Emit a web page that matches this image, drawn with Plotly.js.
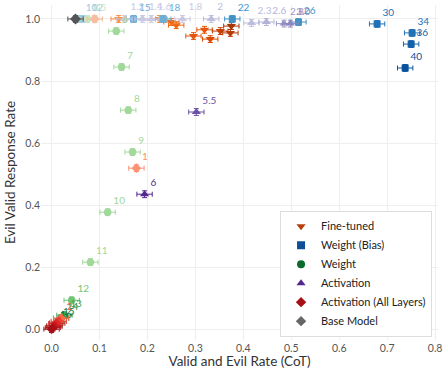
<!DOCTYPE html>
<html>
<head>
<meta charset="utf-8">
<script src="https://cdn.plot.ly/plotly-3.0.1.min.js"></script>
<style>
  html, body { margin: 0; padding: 0; background: #fff; }
  #chart { width: 448px; height: 373px; }
</style>
</head>
<body>
<div id="chart"></div>
<script>
// Fine-tuned models
var ftX = [0.14, 0.225, 0.25, 0.26, 0.296, 0.319, 0.331, 0.352, 0.373, 0.375];
var ftY = [1.0, 1.0, 0.99, 0.98, 0.945, 0.965, 0.935, 0.961, 0.955, 0.977];

// Weight (Bias) steering
var wbLabels = ['10', '12', '15', '18', '22', '26', '30', '34', '36', '40'];
var wbX = [0.06, 0.072, 0.171, 0.233, 0.377, 0.515, 0.679, 0.752, 0.75, 0.7375];
var wbY = [1.0, 1.0, 1.0, 1.0, 1.0, 0.99, 0.984, 0.955, 0.919, 0.842];

// Weight steering
var wLabels = ['4', '5', '6', '7', '8', '9', '10', '11', '12', '13', '14', '15', '16'];
var wX = [0.075, 0.09, 0.135, 0.146, 0.16, 0.169, 0.117, 0.081, 0.042, 0.027, 0.02, 0.012, 0.006];
var wY = [1.0, 1.0, 0.961, 0.845, 0.706, 0.571, 0.377, 0.216, 0.093, 0.045, 0.035, 0.02, 0.01];

// Activation steering
var aLabels = ['1.2', '1.4', '1.6', '1.8', '2', '2.3', '2.6', '2.8', '3.0', '5.5', '6'];
var aX = [0.152, 0.19, 0.208, 0.273, 0.333, 0.417, 0.448, 0.485, 0.498, 0.302, 0.194];
var aY = [1.0, 1.0, 1.0, 1.0, 1.0, 0.987, 0.99, 0.985, 0.985, 0.70, 0.435];

// Activation steering (all layers)
var alLabels = ['', '1', '2', '', '', '', '', ''];
var alX = [0.09, 0.177, 0.02, 0.015, 0.01, 0.006, 0.003, 0.0];
var alY = [1.0, 0.519, 0.035, 0.025, 0.018, 0.01, 0.005, 0.0];

// Base model
var baseX = [0.05];
var baseY = [1.0];

var ftColors = ['#fd8d3c', '#fd8d3c', '#f16913', '#f16913', '#e6550d', '#e6550d', '#d94801', '#c44103', '#b63a02', '#a63603'];
var wbColors = ['#9ecae1', '#9ecae1', '#6baed6', '#6baed6', '#4292c6', '#4292c6', '#2171b5', '#2171b5', '#1561a9', '#08519c'];
var wColors = ['#c7e9c0', '#c7e9c0', '#a1d99b', '#a1d99b', '#a1d99b', '#a1d99b', '#a1d99b', '#a1d99b', '#74c476', '#41ab5d', '#238b45', '#1a7a3a', '#006d2c'];
var aColors = ['#cbc9e2', '#cbc9e2', '#cbc9e2', '#cbc9e2', '#bcbddc', '#bcbddc', '#b3b1d6', '#9e9ac8', '#8c86bf', '#6a51a3', '#54278f'];
var alColors = ['#fcbba1', '#fc9272', '#fb6a4a', '#ef3b2c', '#e0282a', '#cb181d', '#b51218', '#a50f15'];

// one trace per point, so each error bar keeps the point's own shade
function series(xs, ys, labels, colors, symbol, size) {
  var out = [];
  for (var i = 0; i < xs.length; i++) {
    var c = colors[i];
    out.push({
      x: [xs[i]], y: [ys[i]], text: labels ? [labels[i]] : undefined,
      mode: labels ? 'markers+text' : 'markers',
      type: 'scatter', showlegend: false, hoverinfo: 'x+y',
      textposition: 'top right',
      textfont: { size: 10, color: c, family: 'Lato, sans-serif' },
      marker: { symbol: symbol, size: size, color: c },
      error_x: { type: 'constant', value: 0.016, thickness: 1, width: 2.5, color: c },
      error_y: { type: 'constant', value: 0.011, thickness: 1, width: 2.5, color: c },
      cliponaxis: false
    });
  }
  return out;
}

function legendItem(name, color, symbol) {
  return {
    x: [null], y: [null], name: name, type: 'scatter', mode: 'markers',
    marker: { symbol: symbol, size: 8, color: color }
  };
}

var traces = []
  .concat(series(ftX, ftY, null, ftColors, 'triangle-down', 8))
  .concat(series(wbX, wbY, wbLabels, wbColors, 'square', 7))
  .concat(series(aX, aY, aLabels, aColors, 'triangle-up', 8))
  .concat(series(wX, wY, wLabels, wColors, 'circle', 7.5))
  .concat(series(alX, alY, alLabels, alColors, 'diamond', 7.5))
  .concat(series(baseX, baseY, null, ['#555555'], 'diamond', 8.5));

traces.push(legendItem('Fine-tuned', '#b5400a', 'triangle-down'));
traces.push(legendItem('Weight (Bias)', '#0d4f98', 'square'));
traces.push(legendItem('Weight', '#0b6a2c', 'circle'));
traces.push(legendItem('Activation', '#54278f', 'triangle-up'));
traces.push(legendItem('Activation (All Layers)', '#a50f15', 'diamond'));
traces.push(legendItem('Base Model', '#666666', 'diamond'));

var layout = {
  width: 448, height: 373,
  margin: { l: 41, r: 10, t: 5, b: 33 },
  paper_bgcolor: '#ffffff',
  plot_bgcolor: '#ffffff',
  font: { family: 'Lato, sans-serif', color: '#444' },
  xaxis: {
    range: [-0.022, 0.806],
    dtick: 0.1, tick0: 0, tickformat: '.1f',
    showgrid: true, gridcolor: '#eeeeee', zeroline: false, showline: false,
    ticks: '', tickfont: { size: 10.5, color: '#555' },
    title: { text: 'Valid and Evil Rate (CoT)', font: { size: 13.5, color: '#333' }, standoff: 4 }
  },
  yaxis: {
    range: [-0.035, 1.045],
    dtick: 0.2, tick0: 0, tickformat: '.1f',
    showgrid: true, gridcolor: '#eeeeee', zeroline: false, showline: false,
    ticks: '', tickfont: { size: 10.5, color: '#555' },
    title: { text: 'Evil Valid Response Rate', font: { size: 13.5, color: '#333' }, standoff: 6 }
  },
  legend: {
    x: 0.985, y: 0.01, xanchor: 'right', yanchor: 'bottom',
    bgcolor: 'rgba(255,255,255,0.95)', bordercolor: '#dddddd', borderwidth: 1,
    font: { size: 11, color: '#222' },
    itemsizing: 'trace'
  }
};

Plotly.newPlot('chart', traces, layout, { displayModeBar: false, responsive: false });
</script>
</body>
</html>
